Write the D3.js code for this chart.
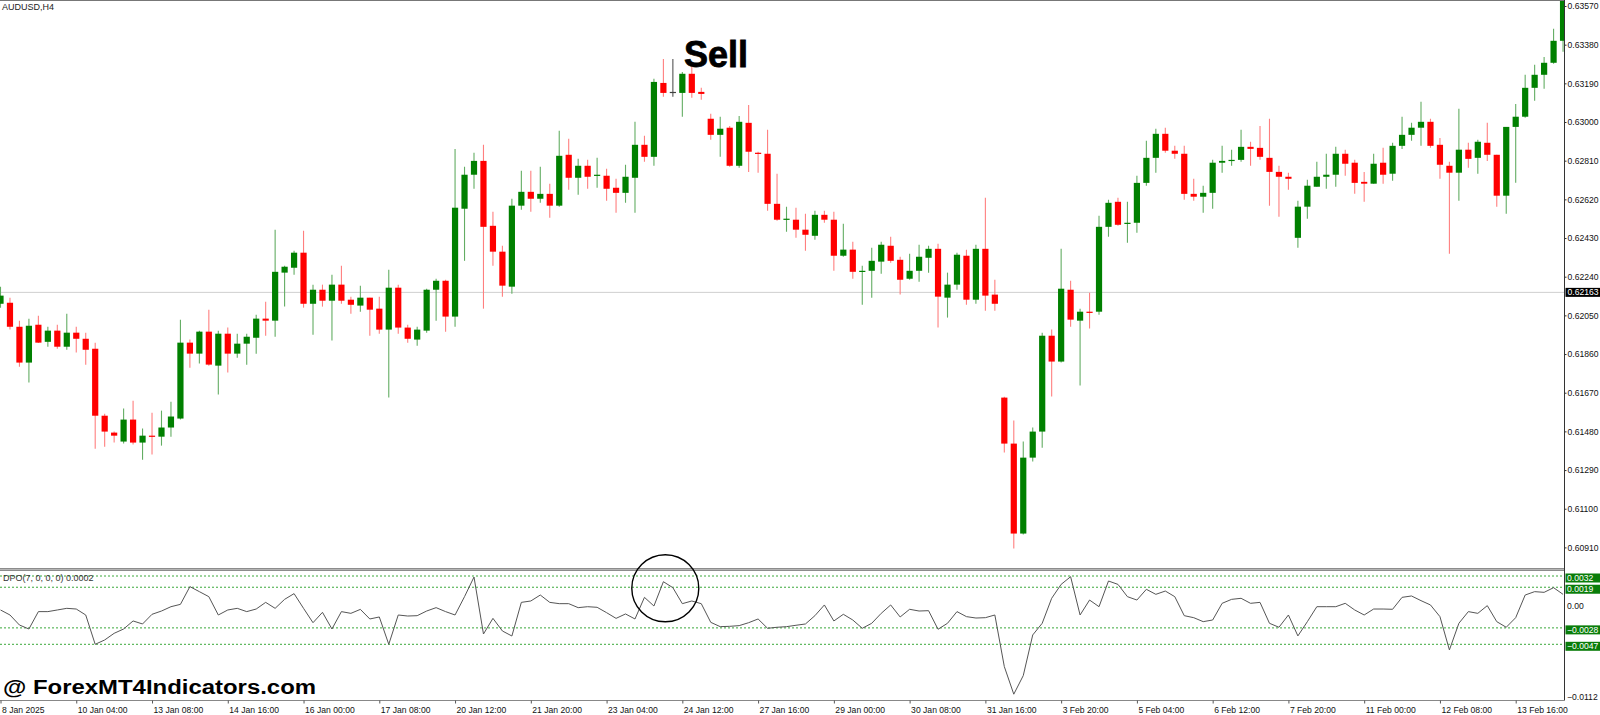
<!DOCTYPE html>
<html>
<head>
<meta charset="utf-8">
<script src="https://cdn.jsdelivr.net/npm/d3@7"></script>
<style>
  body { margin: 0; background: #fff; }
  svg { display: block; }
  text { font-family: "Liberation Sans", Arial, sans-serif; }
</style>
</head>
<body>
<svg id="chart" width="1600" height="715"></svg>
<script>
// AUDUSD H4 candles
const opens = [
  0.62107,0.62112,0.61994,0.61818,0.62004,0.61920,0.61975,0.61896,0.61965,0.61935,
  0.61886,0.61557,0.61474,0.61430,0.61538,0.61425,0.61459,0.61454,0.61499,0.61543,
  0.61916,0.61862,0.61970,0.61803,0.61960,0.61862,0.61911,0.61940,0.62034,0.62024,
  0.62260,0.62284,0.62358,0.62107,0.62176,0.62122,0.62201,0.62127,0.62098,0.62137,
  0.62083,0.61980,0.62186,0.61990,0.61931,0.61975,0.62176,0.62220,0.62044,0.62574,
  0.62741,0.62809,0.62490,0.62363,0.62191,0.62589,0.62657,0.62623,0.62647,0.62589,
  0.62839,0.62726,0.62785,0.62736,0.62736,0.62677,0.62652,0.62726,0.62888,0.62829,
  0.63192,0.63148,0.63143,0.63237,0.63148,0.63016,0.62937,0.62972,0.62785,0.62996,
  0.62849,0.62844,0.62598,0.62520,0.62520,0.62471,0.62441,0.62544,0.62520,0.62343,
  0.62373,0.62264,0.62269,0.62314,0.62392,0.62323,0.62230,0.62269,0.62333,0.62377,
  0.62137,0.62201,0.62343,0.62127,0.62377,0.62152,0.61646,0.61420,0.60978,0.61351,
  0.61479,0.61950,0.61823,0.62176,0.62024,0.62068,0.62068,0.62485,0.62608,0.62500,
  0.62505,0.62701,0.62824,0.62942,0.62859,0.62844,0.62647,0.62633,0.62652,0.62800,
  0.62809,0.62814,0.62878,0.62873,0.62824,0.62755,0.62731,0.62431,0.62584,0.62682,
  0.62731,0.62741,0.62844,0.62800,0.62706,0.62697,0.62800,0.62746,0.62883,0.62937,
  0.62972,0.63001,0.62888,0.62785,0.62751,0.62864,0.62824,0.62898,0.62839,0.62638,
  0.62976,0.63026,0.63168,0.63232,0.63291,0.63399
];
const highs = [
  0.62191,0.62137,0.62024,0.62034,0.62048,0.61994,0.62004,0.62058,0.61994,0.61965,
  0.61916,0.61567,0.61479,0.61592,0.61631,0.61494,0.61572,0.61582,0.61626,0.62029,
  0.61931,0.61975,0.62078,0.61975,0.61990,0.61960,0.61960,0.62053,0.62117,0.62471,
  0.62294,0.62368,0.62466,0.62201,0.62201,0.62250,0.62294,0.62142,0.62196,0.62137,
  0.62142,0.62274,0.62201,0.62004,0.61994,0.62181,0.62230,0.62225,0.62868,0.62780,
  0.62849,0.62888,0.62559,0.62392,0.62623,0.62760,0.62760,0.62780,0.62697,0.62957,
  0.62918,0.62819,0.62814,0.62824,0.62770,0.62721,0.62790,0.63001,0.62932,0.63212,
  0.63310,0.63310,0.63246,0.63271,0.63168,0.63040,0.63026,0.62981,0.63030,0.63084,
  0.62854,0.62962,0.62746,0.62584,0.62579,0.62549,0.62564,0.62564,0.62559,0.62500,
  0.62412,0.62294,0.62382,0.62412,0.62436,0.62338,0.62353,0.62397,0.62392,0.62402,
  0.62260,0.62358,0.62373,0.62397,0.62628,0.62225,0.61650,0.61533,0.61430,0.61499,
  0.61965,0.61980,0.62377,0.62220,0.62083,0.62161,0.62540,0.62618,0.62628,0.62608,
  0.62736,0.62908,0.62967,0.62972,0.62883,0.62883,0.62721,0.62687,0.62814,0.62883,
  0.62864,0.62962,0.62903,0.62981,0.63016,0.62785,0.62751,0.62613,0.62716,0.62805,
  0.62844,0.62878,0.62864,0.62814,0.62755,0.62844,0.62873,0.62898,0.63026,0.62996,
  0.63099,0.63016,0.62922,0.62805,0.63065,0.62898,0.62913,0.62996,0.62839,0.62976,
  0.63089,0.63232,0.63281,0.63320,0.63458,0.63660
];
const lows = [
  0.62088,0.61980,0.61798,0.61720,0.61914,0.61896,0.61886,0.61881,0.61867,0.61808,
  0.61395,0.61405,0.61425,0.61420,0.61415,0.61341,0.61366,0.61410,0.61454,0.61538,
  0.61793,0.61813,0.61803,0.61661,0.61769,0.61842,0.61808,0.61862,0.61950,0.61945,
  0.62093,0.62250,0.62088,0.61955,0.62093,0.61926,0.62107,0.62058,0.62068,0.61950,
  0.61960,0.61646,0.61960,0.61916,0.61901,0.61965,0.62024,0.61970,0.61994,0.62318,
  0.62672,0.62083,0.62294,0.62142,0.62156,0.62569,0.62559,0.62603,0.62530,0.62584,
  0.62667,0.62643,0.62672,0.62677,0.62613,0.62554,0.62603,0.62554,0.62805,0.62785,
  0.63124,0.63124,0.63026,0.63119,0.63109,0.62913,0.62829,0.62780,0.62775,0.62755,
  0.62751,0.62564,0.62515,0.62461,0.62431,0.62368,0.62422,0.62505,0.62269,0.62338,
  0.62230,0.62102,0.62137,0.62255,0.62309,0.62152,0.62225,0.62215,0.62260,0.61990,
  0.62039,0.62176,0.62102,0.62107,0.62073,0.62073,0.61376,0.60904,0.60973,0.61332,
  0.61400,0.61651,0.61818,0.61994,0.61705,0.61985,0.62053,0.62436,0.62490,0.62407,
  0.62456,0.62687,0.62751,0.62849,0.62819,0.62618,0.62613,0.62554,0.62574,0.62751,
  0.62785,0.62805,0.62785,0.62814,0.62589,0.62535,0.62667,0.62382,0.62525,0.62682,
  0.62672,0.62682,0.62736,0.62647,0.62608,0.62697,0.62697,0.62711,0.62868,0.62908,
  0.62883,0.62873,0.62721,0.62353,0.62613,0.62775,0.62746,0.62809,0.62584,0.62549,
  0.62701,0.63021,0.63104,0.63163,0.63286,0.63345
];
const closes = [
  0.62147,0.61994,0.61818,0.61999,0.61916,0.61975,0.61896,0.61965,0.61935,0.61881,
  0.61557,0.61479,0.61459,0.61538,0.61425,0.61459,0.61454,0.61499,0.61553,0.61916,
  0.61862,0.61970,0.61808,0.61960,0.61862,0.61911,0.61945,0.62034,0.62024,0.62264,
  0.62289,0.62358,0.62107,0.62176,0.62122,0.62201,0.62122,0.62102,0.62137,0.62078,
  0.61980,0.62186,0.61990,0.61935,0.61980,0.62176,0.62220,0.62044,0.62579,0.62741,
  0.62809,0.62485,0.62363,0.62196,0.62589,0.62657,0.62623,0.62647,0.62589,0.62834,
  0.62726,0.62785,0.62731,0.62741,0.62672,0.62652,0.62731,0.62888,0.62829,0.63197,
  0.63143,0.63148,0.63237,0.63143,0.63138,0.62937,0.62967,0.62785,0.63001,0.62854,
  0.62844,0.62598,0.62520,0.62525,0.62471,0.62446,0.62544,0.62520,0.62343,0.62373,
  0.62264,0.62269,0.62318,0.62397,0.62318,0.62225,0.62269,0.62338,0.62377,0.62142,
  0.62201,0.62348,0.62127,0.62377,0.62147,0.62107,0.61420,0.60978,0.61351,0.61479,
  0.61950,0.61823,0.62181,0.62029,0.62068,0.62063,0.62485,0.62603,0.62495,0.62505,
  0.62701,0.62824,0.62942,0.62859,0.62844,0.62647,0.62633,0.62652,0.62800,0.62809,
  0.62814,0.62878,0.62868,0.62829,0.62755,0.62731,0.62721,0.62584,0.62687,0.62731,
  0.62741,0.62844,0.62795,0.62701,0.62697,0.62795,0.62741,0.62883,0.62937,0.62972,
  0.63001,0.62883,0.62790,0.62751,0.62864,0.62819,0.62903,0.62839,0.62638,0.62976,
  0.63026,0.63168,0.63232,0.63291,0.63399,0.63640
];

// DPO(7) line, one value per candle
const dpo = [
  -0.00073,-0.00131,-0.00247,-0.00293,-0.00092,-0.00092,-0.00073,-0.00054,-0.00062,-0.00131,
  -0.00470,-0.00420,-0.00343,-0.00293,-0.00200,-0.00235,-0.00123,-0.00085,-0.00035,-0.00008,
  0.00197,0.00139,0.00081,-0.00131,-0.00073,-0.00054,-0.00092,-0.00062,0.00015,-0.00054,
  0.00050,0.00116,-0.00054,-0.00220,-0.00100,-0.00293,-0.00092,-0.00112,-0.00066,-0.00177,
  -0.00154,-0.00470,-0.00131,-0.00143,-0.00139,-0.00085,-0.00046,-0.00092,-0.00131,0.00081,
  0.00308,-0.00351,-0.00170,-0.00316,-0.00374,0.00015,0.00031,0.00100,0.00015,0.00000,
  0.00000,-0.00046,-0.00035,-0.00042,-0.00104,-0.00170,-0.00119,-0.00177,0.00073,-0.00027,
  0.00254,0.00185,0.00000,0.00031,0.00000,-0.00216,-0.00266,-0.00262,-0.00254,-0.00220,
  -0.00177,-0.00285,-0.00273,-0.00266,-0.00250,-0.00235,-0.00139,-0.00015,-0.00200,-0.00123,
  -0.00189,-0.00285,-0.00227,-0.00112,-0.00015,-0.00154,-0.00065,-0.00085,-0.00081,-0.00296,
  -0.00227,-0.00092,-0.00150,-0.00166,-0.00162,-0.00131,-0.00728,-0.01047,-0.00832,-0.00362,
  -0.00227,0.00062,0.00223,0.00312,-0.00131,0.00042,-0.00035,0.00262,0.00223,0.00081,
  0.00042,0.00166,0.00108,0.00146,0.00081,-0.00139,-0.00162,-0.00208,-0.00189,0.00004,
  0.00050,0.00062,0.00004,0.00015,-0.00227,-0.00273,-0.00131,-0.00373,-0.00208,-0.00035,
  -0.00035,-0.00035,0.00004,-0.00073,-0.00131,-0.00062,-0.00062,-0.00065,0.00073,0.00089,
  0.00035,-0.00015,-0.00150,-0.00535,-0.00227,-0.00092,-0.00112,-0.00023,-0.00208,-0.00273,
  -0.00162,0.00100,0.00139,0.00131,0.00185,0.00108
];

const priceTicks = [0.63570,0.63380,0.63190,0.63000,0.62810,0.62620,0.62430,0.62240,
                    0.62050,0.61860,0.61670,0.61480,0.61290,0.61100,0.60910];
const lastPrice = 0.62163;
const dpoLevels = [0.0032, 0.0019, -0.0028, -0.0047];
const dpoPlain = [0, -0.0112];
const timeLabels = ["8 Jan 2025","10 Jan 04:00","13 Jan 08:00","14 Jan 16:00","16 Jan 00:00",
  "17 Jan 08:00","20 Jan 12:00","21 Jan 20:00","23 Jan 04:00","24 Jan 12:00","27 Jan 16:00",
  "29 Jan 00:00","30 Jan 08:00","31 Jan 16:00","3 Feb 20:00","5 Feb 04:00","6 Feb 12:00",
  "7 Feb 20:00","11 Feb 00:00","12 Feb 08:00","13 Feb 16:00"];
const timeLabelBars = timeLabels.map((d, k) => k * 8);

const svg = d3.select('#chart');
const W = 1600, axisX = 1564.5;
const mainTop = 1, mainBottom = 568, subTop = 571, subBottom = 700.5;
const axisFont = 8.6;

svg.append('rect').attr('width', W).attr('height', 715).attr('fill', '#fff');

const n = opens.length;
const x = d3.scaleBand().domain(d3.range(n)).range([-4.235, -4.235 + n * 9.47]);
const cx = i => x(i) + x.bandwidth() / 2;
const xc = d3.scaleLinear().domain([0, n - 1]).range([cx(0), cx(n - 1)]);
const y = d3.scaleLinear().domain([0.60910, 0.63570]).range([547.4, 6]);
const yD = d3.scaleLinear().domain([-0.0112, 0.0032]).range([700.5, 576]);

const defs = svg.append('defs');
defs.append('clipPath').attr('id', 'clipMain')
  .append('rect').attr('x', 0).attr('y', mainTop).attr('width', axisX).attr('height', mainBottom - mainTop);
defs.append('clipPath').attr('id', 'clipSub')
  .append('rect').attr('x', 0).attr('y', subTop).attr('width', axisX).attr('height', subBottom - subTop);

// top border
svg.append('line').attr('x1', 0).attr('x2', axisX).attr('y1', 0.5).attr('y2', 0.5)
  .attr('stroke', '#777').attr('stroke-width', 1);

const main = svg.append('g').attr('clip-path', 'url(#clipMain)');

// last price line
main.append('line').attr('x1', 0).attr('x2', axisX)
  .attr('y1', y(lastPrice)).attr('y2', y(lastPrice))
  .attr('stroke', '#cfcfcf').attr('stroke-width', 1);

const candles = d3.range(n).map(i => ({ i, o: opens[i], h: highs[i], l: lows[i], c: closes[i] }));
const bodyColor = d => d.c > d.o ? '#008000' : (d.c < d.o ? '#ff0000' : '#404040');
const wickColor = d => d.c > d.o ? '#63ad63' : (d.c < d.o ? '#ff7f7f' : '#555');

main.selectAll('line.wick').data(candles).enter().append('line')
  .attr('class', 'wick')
  .attr('x1', d => cx(d.i)).attr('x2', d => cx(d.i))
  .attr('y1', d => y(d.h)).attr('y2', d => y(d.l))
  .attr('stroke', wickColor).attr('stroke-width', 1.1);

const bw = 6.2;
main.selectAll('rect.body').data(candles).enter().append('rect')
  .attr('class', 'body')
  .attr('x', d => cx(d.i) - bw / 2)
  .attr('width', bw)
  .attr('y', d => y(Math.max(d.o, d.c)))
  .attr('height', d => Math.max(1.2, Math.abs(y(d.o) - y(d.c))))
  .attr('fill', bodyColor);

// symbol title
svg.append('text').attr('x', 2).attr('y', 10).attr('font-size', 9).attr('fill', '#222')
  .text('AUDUSD,H4');

// Sell annotation
svg.append('text').attr('x', 684).attr('y', 67)
  .attr('font-size', 36).attr('font-weight', 'bold')
  .attr('stroke', '#000').attr('stroke-width', 0.8)
  .attr('fill', '#000').text('Sell');

// pane separator
svg.append('rect').attr('x', 0).attr('y', 568).attr('width', axisX).attr('height', 3).attr('fill', '#8c8c8c');
svg.append('line').attr('x1', 0).attr('x2', axisX).attr('y1', 569.5).attr('y2', 569.5)
  .attr('stroke', '#b5b5b5').attr('stroke-width', 1);

// price axis
const yAxis = svg.append('g').attr('transform', `translate(${axisX},0)`)
  .call(d3.axisRight(y).tickValues(priceTicks).tickFormat(d3.format('.5f')).tickSize(2).tickPadding(1));
yAxis.select('.domain').remove();
yAxis.selectAll('text').attr('font-size', axisFont).attr('font-family', '"Liberation Sans", Arial, sans-serif').attr('fill', '#111');
yAxis.selectAll('line').attr('stroke', '#333');

const lp = svg.append('g').attr('transform', `translate(${axisX + 1},${y(lastPrice)})`);
lp.append('rect').attr('x', 0).attr('y', -4.5).attr('width', W - axisX).attr('height', 9).attr('fill', '#000');
lp.append('text').attr('x', 2).attr('y', 0).attr('dy', '0.34em').attr('font-size', axisFont)
  .attr('fill', '#fff').text(d3.format('.5f')(lastPrice));

// DPO pane
const sub = svg.append('g').attr('clip-path', 'url(#clipSub)');
sub.selectAll('line.lvl').data(dpoLevels).enter().append('line')
  .attr('class', 'lvl')
  .attr('x1', 0).attr('x2', axisX)
  .attr('y1', d => yD(d)).attr('y2', d => yD(d))
  .attr('stroke', '#3aa83a').attr('stroke-width', 1).attr('stroke-dasharray', '2,2');

sub.append('path').datum(dpo)
  .attr('fill', 'none').attr('stroke', '#555').attr('stroke-width', 1)
  .attr('d', d3.line().x((d, i) => cx(i)).y(d => yD(d)));

svg.append('text').attr('x', 3).attr('y', 581).attr('font-size', 9).attr('fill', '#333')
  .text('DPO(7, 0, 0, 0) 0.0002');

const dpoFmt = d => d === 0 ? '0.00' : d3.format('.4f')(d);
const lv = svg.selectAll('g.dlab').data(dpoLevels).enter().append('g')
  .attr('class', 'dlab')
  .attr('transform', d => `translate(${axisX + 1},${yD(d) + 2})`);
lv.append('rect').attr('x', 0).attr('y', -4.5).attr('width', W - axisX).attr('height', 9).attr('fill', '#0a7d0a');
lv.append('text').attr('x', 1.5).attr('dy', '0.34em').attr('font-size', axisFont).attr('fill', '#fff').text(dpoFmt);

svg.selectAll('text.dplain').data(dpoPlain).enter().append('text')
  .attr('class', 'dplain')
  .attr('x', axisX + 2.5).attr('y', d => Math.min(yD(d) + 2, 697)).attr('dy', '0.34em')
  .attr('font-size', axisFont).attr('fill', '#111').text(dpoFmt);

// right axis line and pane bottom
svg.append('line').attr('x1', axisX).attr('x2', axisX).attr('y1', 0).attr('y2', subBottom)
  .attr('stroke', '#333').attr('stroke-width', 1);
svg.append('line').attr('x1', 0).attr('x2', axisX).attr('y1', subBottom).attr('y2', subBottom)
  .attr('stroke', '#888').attr('stroke-width', 1);

// time axis
const tAxis = svg.append('g').attr('transform', `translate(0,${subBottom})`)
  .call(d3.axisBottom(xc).tickValues(timeLabelBars).tickSize(3).tickPadding(3)
    .tickFormat((d, k) => timeLabels[k]));
tAxis.select('.domain').remove();
tAxis.selectAll('line').attr('stroke', '#555');
tAxis.selectAll('text').attr('text-anchor', 'start').attr('x', 1)
  .attr('font-size', axisFont).attr('font-family', '"Liberation Sans", Arial, sans-serif').attr('fill', '#111');

// watermark
svg.append('text').attr('x', 3).attr('y', 694)
  .attr('font-family', '"DejaVu Sans", sans-serif').attr('font-weight', 'bold')
  .attr('font-size', 20).attr('textLength', 313).attr('lengthAdjust', 'spacingAndGlyphs')
  .attr('fill', '#000').text('@ ForexMT4Indicators.com');

// circle marking the DPO peak
svg.append('circle').attr('cx', xc(70.2)).attr('cy', yD(0.00178)).attr('r', 33.5)
  .attr('fill', 'none').attr('stroke', '#000').attr('stroke-width', 1.4);
</script>
</body>
</html>
